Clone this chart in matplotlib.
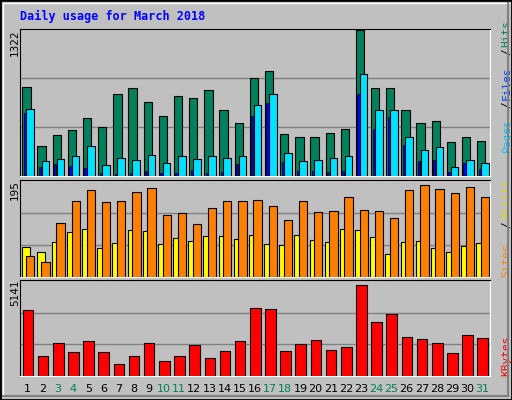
import matplotlib.pyplot as plt
import numpy as np

days = list(range(1, 32))
weekend = [3, 4, 10, 11, 17, 18, 24, 25, 31]
hits = [804, 267, 375, 420, 528, 447, 744, 798, 672, 546, 726, 708, 780, 600, 483, 888,
        951, 384, 357, 348, 393, 429, 1322, 798, 798, 600, 483, 501, 303, 357, 312]
files = [609, 132, 150, 177, 267, 96, 159, 141, 186, 114, 177, 150, 177, 159, 177, 645,
         744, 204, 132, 141, 159, 177, 924, 600, 600, 357, 231, 258, 78, 141, 114]
pages = [573, 78, 105, 87, 69, 24, 15, 24, 42, 24, 24, 51, 24, 33, 105, 546,
         663, 123, 42, 42, 33, 42, 744, 429, 537, 276, 132, 141, 33, 114, 60]
visits = [43, 30, 110, 154, 177, 152, 154, 173, 181, 126, 130, 108, 140, 154, 154, 156,
          144, 116, 154, 132, 134, 162, 136, 134, 120, 177, 187, 179, 171, 183, 162]
sites = [61, 51, 71, 91, 97, 59, 69, 95, 93, 67, 79, 73, 83, 83, 77, 85,
         67, 65, 85, 75, 71, 97, 95, 81, 47, 71, 73, 59, 51, 63, 69]
kbytes = [3572, 1082, 1786, 1299, 1894, 1299, 649, 1082, 1786, 812, 1082, 1678, 974, 1353, 1894, 3680,
          3626, 1353, 1732, 1948, 1407, 1569, 4925, 2922, 3355, 2111, 2002, 1786, 1245, 2219, 2057]

W, H = 512, 400
fig = plt.figure(figsize=(W / 100, H / 100), dpi=100)
fig.patch.set_facecolor('#C0C0C0')
mono = 'DejaVu Sans Mono'

# bevel border
fig.add_artist(plt.Rectangle((0, 0), 1, 1, transform=fig.transFigure, fill=False, ec='black', lw=2))
fig.add_artist(plt.Line2D([3 / W, 3 / W], [4 / H, 1 - 3 / H], color='white', lw=1))
fig.add_artist(plt.Line2D([3 / W, 1 - 3 / W], [1 - 3 / H, 1 - 3 / H], color='white', lw=1))
fig.add_artist(plt.Line2D([1 - 4 / W, 1 - 4 / W], [4 / H, 1 - 3 / H], color='#808080', lw=1.5))
fig.add_artist(plt.Line2D([3 / W, 1 - 4 / W], [4 / H, 4 / H], color='#808080', lw=1.5))


def panel(top, bottom, ymax):
    ax = fig.add_axes([20 / W, 1 - bottom / H, 470 / W, (bottom - top) / H])
    ax.set_facecolor('#C0C0C0')
    ax.set_xlim(0.5, 31.5)
    ax.set_ylim(0, ymax * 1.01)
    for f in (1 / 3, 2 / 3):
        ax.axhline(ymax * f, color='#808080', lw=1, zorder=0)
    ax.set_yticks([])
    ax.set_xticks([])
    for s in ('left', 'top'):
        ax.spines[s].set_color('black')
    for s in ('right', 'bottom'):
        ax.spines[s].set_color('white')
    fig.text(15 / W, 1 - top / H, str(ymax), rotation=90, ha='center', va='top',
             fontsize=7.5, family='DejaVu Sans')
    return ax


def side_label(ax, parts):
    # parts: list of (text, color, start fraction)
    for txt, col, y0 in parts:
        ax.text(1.035, y0, txt, transform=ax.transAxes, rotation=90, color=col, fontsize=8,
                family=mono, va='bottom', ha='center')


d = np.array(days)
ax1 = panel(29, 176, 1322)
ax1.bar(d - 0.35, hits, width=0.55, align='edge', color='#00805C', ec='black', lw=0.8)
ax1.bar(d - 0.25, pages, width=0.15, align='edge', color='#0000FF', ec='black', lw=0.5, zorder=3)
ax1.bar(d - 0.08, files, width=0.5, align='edge', color='#00E0FF', ec='black', lw=0.8, zorder=2)
ax1.set_ylim(0, 1322 * 1.005)
side_label(ax1, [('Pages', '#00C0FF', 0.16), ('/', 'black', 0.46), ('Files', '#0040FF', 0.52),
                 ('/', 'black', 0.82), ('Hits', '#00805C', 0.88)])

ax2 = panel(180, 277, 195)
ax2.bar(d - 0.4, sites, width=0.55, align='edge', color='#FFFF00', ec='black', lw=0.8)
ax2.bar(d - 0.1, visits, width=0.55, align='edge', color='#FF8000', ec='black', lw=0.8)
side_label(ax2, [('Sites', '#FF8000', 0.0), ('/', 'black', 0.5), ('Visits', '#E0E000', 0.6)])

ax3 = panel(280, 376, 5141)
ax3.bar(d - 0.33, kbytes, width=0.7, align='edge', color='#FF0000', ec='black', lw=0.8)
side_label(ax3, [('KBytes', '#FF0000', 0.0)])

for day in days:
    ax3.text(day, -0.08, str(day), transform=ax3.get_xaxis_transform(), ha='center', va='top',
             fontsize=8, color='#00805C' if day in weekend else 'black')

fig.text(20 / W, 1 - 16 / H, 'Daily usage for March 2018', color='#0000FF', fontsize=8.5,
         fontweight='bold', family=mono, va='center')

fig.savefig('out.png', dpi=100, facecolor=fig.get_facecolor())
